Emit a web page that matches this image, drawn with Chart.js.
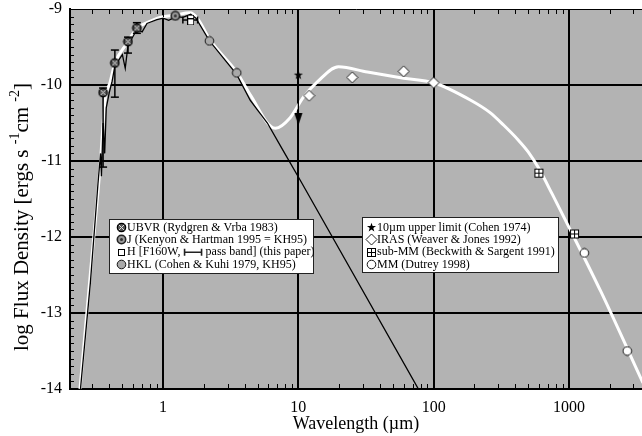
<!DOCTYPE html>
<html>
<head>
<meta charset="utf-8">
<script src="https://cdn.jsdelivr.net/npm/chart.js@4"></script>
<style>
  body { margin: 0; background: #fff; }
  canvas { display: block; }
</style>
</head>
<body>
<canvas id="sedChart" width="642" height="436"></canvas>
<script>
// wavelengths in micron, fluxes as log10 (ergs s^-1 cm^-2)

// disk + star model (white curve)
const modelLam  = [0.243, 0.288, 0.342, 0.372, 0.405, 0.441, 0.541, 0.642, 0.76, 0.95, 1.23, 1.58, 1.79, 2.23, 3.53, 4.41, 6.76, 8.7, 10.9, 13.8, 19.8, 32.4, 60, 100, 188, 260, 330, 420, 500, 600, 750, 1000, 1725, 3530];
const modelFlux = [-14.0, -12.54, -11.08, -10.2, -9.97, -9.71, -9.45, -9.25, -9.18, -9.11, -9.08, -9.05, -9.12, -9.41, -9.84, -10.13, -10.57, -10.43, -10.16, -9.96, -9.76, -9.83, -9.91, -9.97, -10.2, -10.36, -10.53, -10.72, -10.88, -11.1, -11.43, -11.87, -12.72, -13.92];

// stellar photosphere (black curve)
const photLam  = [0.245, 0.29, 0.33, 0.345, 0.35, 0.36, 0.37, 0.38, 0.40, 0.42, 0.44, 0.50, 0.525, 0.55, 0.64, 0.70, 0.76, 0.90, 1.0, 1.1, 1.25, 1.4, 1.6, 1.75, 2.2, 3.5, 4.4, 5.9, 7.7, 10.3, 80];
const photFlux = [-14.0, -12.6, -11.3, -10.9, -11.2, -10.5, -10.9, -10.3, -10.1, -9.95, -9.75, -9.6, -9.78, -9.48, -9.27, -9.3, -9.19, -9.14, -9.12, -9.15, -9.1, -9.11, -9.07, -9.12, -9.42, -9.86, -10.2, -10.5, -10.86, -11.25, -14.05];

// photometry
const ubvrLam  = [0.36, 0.44, 0.55, 0.64];
const ubvrFlux = [-10.1, -9.71, -9.43, -9.25];
const ubvrHi   = [-10.04, -9.54, -9.37, -9.18];
const ubvrLo   = [-11.08, -10.16, -9.58, -9.32];

const jLam  = [1.23];
const jFlux = [-9.09];

const hLam  = [1.6, 1.6];
const hFlux = [-9.12, -9.17];
const hBand = [1.4, 1.8];

const hklLam  = [2.2, 3.5];
const hklFlux = [-9.42, -9.84];

const limLam  = [10];
const limFlux = [-9.87];
const limTip  = [-10.45];

const irasLam  = [12, 25, 60, 100];
const irasFlux = [-10.14, -9.9, -9.82, -9.97];

const submmLam  = [600, 1100];
const submmFlux = [-11.16, -11.96];

const mmLam  = [1300, 2700];
const mmFlux = [-12.21, -13.5];

const xMajor = [1, 10, 100, 1000];
const yMajor = [-14, -13, -12, -11, -10, -9];

const legendLeft = [
  'UBVR (Rydgren & Vrba 1983)',
  'J (Kenyon & Hartman 1995 = KH95)',
  'H [F160W, | pass band] (this paper)',
  'HKL (Cohen & Kuhi 1979, KH95)'
];
const legendRight = [
  '10µm upper limit (Cohen 1974)',
  'IRAS (Weaver & Jones 1992)',
  'sub-MM (Beckwith & Sargent 1991)',
  'MM (Dutrey 1998)'
];

// y title pieces: [text, superscript?]
const yTitleParts = [['log Flux Density [ergs s ', false], ['-1', true], ['cm ', false], ['-2', true], [']', false]];

const FONT = '"Liberation Serif", "Times New Roman", serif';

// minor ticks
const xTickVals = [];
for (let e = -1; e <= 3; e++) {
  for (let m = 1; m <= 9; m++) {
    const v = m * Math.pow(10, e);
    if (v >= 0.2 && v <= 3500) xTickVals.push(v);
  }
}
const yTickVals = [];
for (let i = 0; i <= 50; i++) yTickVals.push(Math.round((-14 + i * 0.1) * 10) / 10);

function pts(xs, ys) { return xs.map((x, i) => ({ x: x, y: ys[i] })); }

function marker(w, h, draw) {
  const c = document.createElement('canvas');
  c.width = w; c.height = h;
  draw(c.getContext('2d'), w / 2, h / 2);
  return c;
}

const ubvrMark = marker(11, 11, (g, cx, cy) => {
  g.beginPath(); g.arc(cx, cy, 4.2, 0, Math.PI * 2);
  g.fillStyle = '#555'; g.fill();
  g.strokeStyle = '#000'; g.lineWidth = 1.2; g.stroke();
  g.beginPath();
  g.moveTo(cx - 2.7, cy - 2.7); g.lineTo(cx + 2.7, cy + 2.7);
  g.moveTo(cx + 2.7, cy - 2.7); g.lineTo(cx - 2.7, cy + 2.7);
  g.strokeStyle = '#ddd'; g.lineWidth = 1; g.stroke();
});
const jMark = marker(11, 11, (g, cx, cy) => {
  g.beginPath(); g.arc(cx, cy, 4.2, 0, Math.PI * 2);
  g.fillStyle = '#999'; g.fill();
  g.strokeStyle = '#222'; g.lineWidth = 1.6; g.stroke();
  g.beginPath(); g.arc(cx, cy, 1.5, 0, Math.PI * 2);
  g.fillStyle = '#333'; g.fill();
});
const hMark = marker(7, 7, (g) => {
  g.fillStyle = '#fff'; g.fillRect(1, 1, 5, 5);
  g.strokeStyle = '#000'; g.lineWidth = 1; g.strokeRect(0.5, 0.5, 6, 6);
});
const hklMark = marker(11, 11, (g, cx, cy) => {
  g.beginPath(); g.arc(cx, cy, 4.3, 0, Math.PI * 2);
  g.fillStyle = '#a9a9a9'; g.fill();
  g.strokeStyle = '#111'; g.lineWidth = 1; g.stroke();
});
const starMark = marker(11, 11, (g, cx, cy) => {
  g.beginPath();
  for (let i = 0; i < 10; i++) {
    const r = i % 2 ? 1.9 : 4.8;
    const a = -Math.PI / 2 + i * Math.PI / 5;
    g.lineTo(cx + r * Math.cos(a), cy + r * Math.sin(a));
  }
  g.closePath(); g.fillStyle = '#000'; g.fill();
});
const diamondMark = marker(13, 13, (g) => {
  g.beginPath();
  g.moveTo(6.5, 1); g.lineTo(12, 6.5); g.lineTo(6.5, 12); g.lineTo(1, 6.5); g.closePath();
  g.fillStyle = '#fff'; g.fill();
  g.strokeStyle = '#222'; g.lineWidth = 1; g.stroke();
});
const submmMark = marker(11, 11, (g) => {
  g.fillStyle = '#fff'; g.fillRect(1, 1, 9, 9);
  g.strokeStyle = '#000'; g.lineWidth = 1;
  g.strokeRect(1.5, 1.5, 8, 8);
  g.beginPath(); g.moveTo(5.5, 1.5); g.lineTo(5.5, 9.5); g.moveTo(1.5, 5.5); g.lineTo(9.5, 5.5); g.stroke();
});
const mmMark = marker(11, 11, (g, cx, cy) => {
  g.beginPath(); g.arc(cx, cy, 4.3, 0, Math.PI * 2);
  g.fillStyle = '#fff'; g.fill();
  g.strokeStyle = '#111'; g.lineWidth = 1; g.stroke();
});
const arrowMark = marker(9, 12, (g) => {
  g.beginPath(); g.moveTo(0.5, 0); g.lineTo(8.5, 0); g.lineTo(4.5, 12); g.closePath();
  g.fillStyle = '#000'; g.fill();
});

// error bars as broken line segments
const ubvrErr = [];
ubvrLam.forEach((x, i) => {
  ubvrErr.push({ x: x, y: ubvrHi[i] }, { x: x, y: ubvrLo[i] }, { x: x, y: null });
});

function scatter(label, data, style) {
  return { label: label, data: data, showLine: false, pointStyle: style, pointRadius: 5, pointHoverRadius: 5 };
}

const decor = {
  id: 'decor',
  beforeDraw(chart) {
    const a = chart.chartArea, ctx = chart.ctx;
    ctx.save();
    ctx.fillStyle = '#b3b3b3';
    ctx.fillRect(a.left, a.top, a.right - a.left, a.bottom - a.top);
    ctx.restore();
  },
  afterDraw(chart) {
    const a = chart.chartArea, ctx = chart.ctx;
    const xs = chart.scales.x, ys = chart.scales.y;
    ctx.save();
    ctx.strokeStyle = '#000';
    ctx.lineWidth = 1;
    ctx.beginPath();
    xs.ticks.forEach(t => {
      const px = Math.round(xs.getPixelForValue(t.value)) + 0.5;
      const len = xMajor.includes(t.value) ? 8 : 5;
      ctx.moveTo(px, a.bottom); ctx.lineTo(px, a.bottom - len);
      ctx.moveTo(px, a.top); ctx.lineTo(px, a.top + len);
    });
    ys.ticks.forEach(t => {
      const py = Math.round(ys.getPixelForValue(t.value)) + 0.5;
      const len = Number.isInteger(t.value) ? 8 : 4;
      ctx.moveTo(a.left, py); ctx.lineTo(a.left + len, py);
    });
    ctx.stroke();

    // y axis title with superscripts
    ctx.save();
    ctx.translate(22, 217);
    ctx.rotate(-Math.PI / 2);
    ctx.fillStyle = '#000';
    ctx.textBaseline = 'middle';
    const fBase = '21px ' + FONT, fSup = '14px ' + FONT;
    let total = 0;
    yTitleParts.forEach(p => { ctx.font = p[1] ? fSup : fBase; total += ctx.measureText(p[0]).width; });
    let tx = -total / 2;
    yTitleParts.forEach(p => {
      ctx.font = p[1] ? fSup : fBase;
      ctx.fillText(p[0], tx, p[1] ? -7 : 0);
      tx += ctx.measureText(p[0]).width;
    });
    ctx.restore();

    // legend boxes
    const boxes = [
      { x: 109, y: 219, w: 204, h: 54, mx: 121, tx: 127, rows: legendLeft, marks: [ubvrMark, jMark, hMark, hklMark] },
      { x: 362, y: 217, w: 196, h: 55, mx: 371, tx: 377, rows: legendRight, marks: [starMark, diamondMark, submmMark, mmMark] }
    ];
    ctx.font = '12px ' + FONT;
    ctx.textBaseline = 'middle';
    boxes.forEach(b => {
      ctx.fillStyle = '#fff';
      ctx.fillRect(b.x, b.y, b.w, b.h);
      ctx.strokeStyle = '#222';
      ctx.lineWidth = 1;
      ctx.strokeRect(b.x + 0.5, b.y + 0.5, b.w, b.h);
      b.rows.forEach((txt, i) => {
        const cy = 227.5 + i * 12.4;
        const m = b.marks[i];
        ctx.drawImage(m, Math.round(b.mx - m.width / 2), Math.round(cy - m.height / 2));
        ctx.fillStyle = '#000';
        if (txt.indexOf('|') >= 0) {
          const parts = txt.split('|');
          ctx.fillText(parts[0], b.tx, cy);
          const x0 = b.tx + ctx.measureText(parts[0]).width;
          // pass band symbol
          ctx.beginPath();
          ctx.lineWidth = 1.6;
          ctx.moveTo(x0 + 1, cy); ctx.lineTo(x0 + 18, cy);
          ctx.moveTo(x0 + 1, cy - 3.5); ctx.lineTo(x0 + 1, cy + 3.5);
          ctx.moveTo(x0 + 18, cy - 3.5); ctx.lineTo(x0 + 18, cy + 3.5);
          ctx.stroke();
          ctx.fillText(parts[1], x0 + 19, cy);
        } else {
          ctx.fillText(txt, b.tx, cy);
        }
      });
    });
    ctx.restore();
  }
};

new Chart(document.getElementById('sedChart'), {
  type: 'line',
  data: {
    datasets: [
      scatter('UBVR', pts(ubvrLam, ubvrFlux), ubvrMark),
      scatter('J', pts(jLam, jFlux), jMark),
      scatter('H', pts(hLam, hFlux), hMark),
      scatter('HKL', pts(hklLam, hklFlux), hklMark),
      scatter('10um', pts(limLam, limFlux), starMark),
      scatter('arrow', pts(limLam, limTip), arrowMark),
      scatter('IRAS', pts(irasLam, irasFlux), diamondMark),
      scatter('sub-MM', pts(submmLam, submmFlux), submmMark),
      scatter('MM', pts(mmLam, mmFlux), mmMark),
      {
        label: 'UBVR range', data: ubvrErr, spanGaps: false,
        borderColor: '#000', borderWidth: 1.5,
        pointStyle: 'line', pointRadius: 4, pointBorderWidth: 1.5, pointBorderColor: '#000'
      },
      {
        label: 'H band', data: pts(hBand, [hFlux[0] - 0.025, hFlux[0] - 0.025]),
        borderColor: '#000', borderWidth: 1.5,
        pointStyle: 'line', pointRotation: 90, pointRadius: 3.5, pointBorderWidth: 1.5, pointBorderColor: '#000'
      },
      {
        label: 'limit shaft', data: pts([limLam[0], limLam[0]], [limFlux[0], limTip[0] + 0.05]),
        borderColor: '#000', borderWidth: 1.3, pointRadius: 0
      },
      {
        label: 'photosphere', data: pts(photLam, photFlux),
        borderColor: '#000', borderWidth: 1.3, pointRadius: 0, tension: 0
      },
      {
        label: 'model', data: pts(modelLam, modelFlux),
        borderColor: '#fff', borderWidth: 3, pointRadius: 0, cubicInterpolationMode: 'monotone'
      }
    ]
  },
  options: {
    responsive: false,
    animation: false,
    devicePixelRatio: 1,
    layout: { padding: { top: 9, right: 0, bottom: 0, left: 0 }, autoPadding: false },
    plugins: { legend: { display: false }, tooltip: { enabled: false } },
    scales: {
      x: {
        type: 'logarithmic', min: 0.205, max: 3470,
        afterBuildTicks: s => { s.ticks = xTickVals.map(v => ({ value: v })); },
        afterFit: s => { s.height = 47; s.paddingLeft = 0; s.paddingRight = 0; },
        ticks: {
          autoSkip: false, maxRotation: 0, padding: 9, color: '#000',
          font: { family: FONT, size: 16 },
          callback: v => xMajor.includes(v) ? String(v) : ''
        },
        grid: {
          drawTicks: false, lineWidth: 2,
          color: c => (c.tick && xMajor.includes(c.tick.value)) ? '#000' : 'rgba(0,0,0,0)'
        },
        border: { display: true, color: '#000', width: 2 },
        title: { display: true, text: 'Wavelength (µm)', color: '#000', font: { family: FONT, size: 18 }, padding: { top: 0, bottom: 1 } }
      },
      y: {
        min: -14, max: -9,
        afterBuildTicks: s => { s.ticks = yTickVals.map(v => ({ value: v })); },
        afterFit: s => { s.width = 70; s.paddingTop = 0; s.paddingBottom = 0; },
        ticks: {
          autoSkip: false, padding: 8, color: '#000',
          font: { family: FONT, size: 16 },
          callback: v => Number.isInteger(v) ? String(v) : ''
        },
        grid: {
          drawTicks: false,
          lineWidth: c => (c.tick && c.tick.value === -9) ? 1 : 2,
          color: c => (c.tick && Number.isInteger(c.tick.value)) ? '#000' : 'rgba(0,0,0,0)'
        },
        border: { display: true, color: '#000', width: 2 }
      }
    }
  },
  plugins: [decor]
});
</script>
</body>
</html>
